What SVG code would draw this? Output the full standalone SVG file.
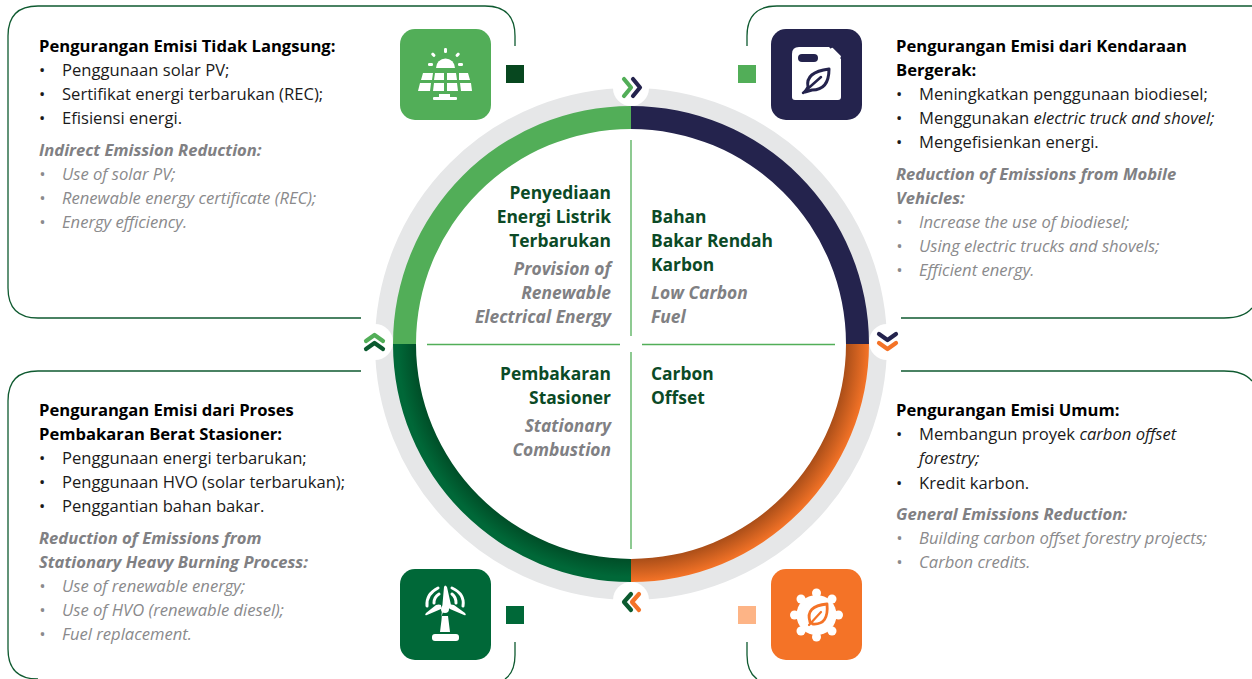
<svg xmlns="http://www.w3.org/2000/svg" width="1252" height="679" viewBox="0 0 1252 679">
<defs>
<linearGradient id="go" x1="0" y1="0" x2="1" y2="1"><stop offset="0" stop-color="#f5712a"/><stop offset="1" stop-color="#f5712a"/></linearGradient>
<radialGradient id="shO" gradientUnits="userSpaceOnUse" cx="631" cy="344" r="238"><stop offset="0.9" stop-color="#a84d18"/><stop offset="1" stop-color="#f47327"/></radialGradient>
<radialGradient id="shG" gradientUnits="userSpaceOnUse" cx="631" cy="344" r="238"><stop offset="0.9" stop-color="#004d27"/><stop offset="0.98" stop-color="#006838"/></radialGradient>
</defs>
<style>
text{font-family:"Open Sans","Noto Sans","Liberation Sans",sans-serif;font-size:16.6px;fill:#1a1a1a}
.b{font-weight:700;fill:#000}
.e{font-style:italic;fill:#8a8a8c}
.eb{font-style:italic;font-weight:700;fill:#808083}
.g{font-weight:700;fill:#0b4a26;font-size:17.4px}
.gi{font-style:italic;font-weight:700;fill:#808083;font-size:17.4px}
.i{font-style:italic}
.p{fill:none;stroke:#0f5a30;stroke-width:1.3}
.w{fill:#fff}
</style>
<g id="connectors">
<path class="p" d="M515 46V36Q515 6 485 6H38Q8 6 8 36V288Q8 318 38 318H361"/>
<path class="p" d="M747 46V36Q747 6 777 6H1252"/>
<path class="p" d="M901 318H1224Q1244 318 1252 308"/>
<path class="p" d="M361 371H38Q8 371 8 401V649Q8 679 38 679"/>
<path class="p" d="M515 642V655Q515 672 505 679"/>
<path class="p" d="M747 642V655Q747 672 757 679"/>
<path class="p" d="M901 371H1224Q1244 371 1252 381"/>
</g>
<g id="ring">
<circle cx="631" cy="344" r="246.5" fill="none" stroke="#e6e7e8" stroke-width="19"/>
<path d="M631 106A238 238 0 0 0 393 344H416A215 215 0 0 1 631 129Z" fill="#52ae58"/>
<path d="M631 106A238 238 0 0 1 869 344H846A215 215 0 0 0 631 129Z" fill="#24234d"/>
<path d="M869 344A238 238 0 0 1 631 582V559A215 215 0 0 0 846 344Z" fill="url(#shO)"/>
<path d="M393 344A238 238 0 0 0 631 582V559A215 215 0 0 1 416 344Z" fill="url(#shG)"/>
<g fill="#fff"><circle cx="631" cy="88" r="18"/><circle cx="375" cy="342" r="18"/><circle cx="887" cy="342" r="18"/><circle cx="631" cy="600" r="18"/></g>
<g fill="none" stroke-width="4.2" stroke-linecap="round" stroke-linejoin="round">
<path d="M624 79L631 87.5L624 96" stroke="#52ae58"/><path d="M633 79L640 87.5L633 96" stroke="#24234d"/>
<path d="M366 341L374.500 335L383 341" stroke="#52ae58"/><path d="M366 349L374.500 343L383 349" stroke="#0b5a2f"/>
<path d="M879 334L887.500 340L896 334" stroke="#24234d"/><path d="M879 343L887.500 349L896 343" stroke="#f47327"/>
<path d="M631 594L624 602L631 610" stroke="#0b5a2f"/><path d="M639 594L632 602L639 610" stroke="#f47327"/>
</g>
<g stroke="#52ae58" stroke-width="1.3"><path d="M631 140V336M631 352V549"/><path d="M427 344.500H620M642 344.500H835"/></g>
</g>
<g id="node-tl">
<rect x="400" y="29" width="91" height="91" rx="15" fill="#52ae58"/>
<g class="w"><path d="M436 68a9.500 9.500 0 0 1 19 0Z"/><rect x="444" y="48" width="3" height="5" rx="1.200"/><rect x="432" y="52.500" width="3" height="4.500" rx="1.200" transform="rotate(-42 433.500 55)"/><rect x="456" y="52.500" width="3" height="4.500" rx="1.200" transform="rotate(42 457.500 55)"/><rect x="428" y="63" width="5" height="3" rx="1.200"/><rect x="458" y="63" width="5" height="3" rx="1.200"/>
<path d="M423 73H433L432 80H421ZM435 73H444V80H434ZM447 73H456L457 80H447ZM459 73H468L470 80H459ZM420 83H431L430 91H418ZM434 83H444V91H433ZM447 83H457L458 91H447ZM460 83H471L472 91H461Z"/>
<rect x="433" y="97" width="24" height="3" rx="1"/><rect x="439" y="94" width="11" height="3"/></g>
<rect x="506" y="65" width="18" height="18" fill="#07471f"/>
<text class="b" x="39" y="52">Pengurangan Emisi Tidak  Langsung:</text>
<text x="39" y="76">•</text><text x="62" y="76">Penggunaan solar PV;</text>
<text x="39" y="100">•</text><text x="62" y="100">Sertifikat energi terbarukan (REC);</text>
<text x="39" y="124">•</text><text x="62" y="124">Efisiensi energi.</text>
<text class="eb" x="39" y="156">Indirect Emission Reduction:</text>
<text class="e" x="39" y="180">•</text><text class="e" x="62" y="180">Use of solar PV;</text>
<text class="e" x="39" y="204">•</text><text class="e" x="62" y="204">Renewable energy certificate (REC);</text>
<text class="e" x="39" y="228">•</text><text class="e" x="62" y="228">Energy efficiency.</text>
</g>
<g id="node-tr">
<rect x="771" y="29" width="91" height="91" rx="15" fill="#24234d"/>
<path class="w" d="M799 47H829L841 59V97Q841 100 838 100H795Q792 100 792 97V54Q792 47 799 47Z"/>
<rect x="829" y="51" width="13" height="4.500" rx="1" fill="#fff" transform="rotate(45 835 53)"/>
<rect x="798" y="54" width="20" height="8" rx="4" fill="#24234d"/>
<path d="M805 92L808 87Q805 72 829 69Q829 90 812 90Z" fill="none" stroke="#24234d" stroke-width="3" stroke-linejoin="round"/><path d="M803 93L821 77" stroke="#24234d" stroke-width="2.500" stroke-linecap="round"/>
<rect x="738" y="65" width="18" height="18" fill="#52ae58"/>
<text class="b" x="896" y="52">Pengurangan Emisi dari Kendaraan</text>
<text class="b" x="896" y="76">Bergerak:</text>
<text x="896" y="100">•</text><text x="919" y="100">Meningkatkan penggunaan biodiesel;</text>
<text x="896" y="124">•</text><text x="919" y="124">Menggunakan <tspan class="i">electric truck and shovel;</tspan></text>
<text x="896" y="148">•</text><text x="919" y="148">Mengefisienkan energi.</text>
<text class="eb" x="896" y="180">Reduction of Emissions from Mobile</text>
<text class="eb" x="896" y="204">Vehicles:</text>
<text class="e" x="896" y="228">•</text><text class="e" x="919" y="228">Increase the use of biodiesel;</text>
<text class="e" x="896" y="252">•</text><text class="e" x="919" y="252">Using electric trucks and shovels;</text>
<text class="e" x="896" y="276">•</text><text class="e" x="919" y="276">Efficient energy.</text>
</g>
<g id="node-bl">
<rect x="400" y="569" width="91" height="91" rx="15" fill="#006838"/>
<g class="w"><path d="M441 624L444 590Q445 587 447 590L451 608Q452 612 447 612Q442 612 441 624Z" transform="translate(0 -3)"/>
<circle cx="445" cy="609" r="4"/>
<path d="M441 609L427 615Q424 616 426 613L436 605Q439 604 441 605ZM449 605Q451 604 454 605L465 613Q467 616 464 615L450 609Z"/>
<path d="M442 616H448L450 632H440Z"/><rect x="432" y="634" width="27" height="7" rx="3"/></g>
<g fill="none" stroke="#fff" stroke-width="3" stroke-linecap="round"><path d="M427 606Q426 594 438 588"/><path d="M463 606Q465 594 452 588"/><path d="M434 603Q434 597 439 594"/><path d="M456 603Q456 597 452 594"/></g>
<rect x="506" y="606" width="18" height="18" fill="#006838"/>
<text class="b" x="39" y="416">Pengurangan Emisi dari Proses</text>
<text class="b" x="39" y="440">Pembakaran Berat Stasioner:</text>
<text x="39" y="464">•</text><text x="62" y="464">Penggunaan energi terbarukan;</text>
<text x="39" y="488">•</text><text x="62" y="488">Penggunaan HVO (solar terbarukan);</text>
<text x="39" y="512">•</text><text x="62" y="512">Penggantian bahan bakar.</text>
<text class="eb" x="39" y="544">Reduction of Emissions from</text>
<text class="eb" x="39" y="568">Stationary Heavy Burning Process:</text>
<text class="e" x="39" y="592">•</text><text class="e" x="62" y="592">Use of renewable energy;</text>
<text class="e" x="39" y="616">•</text><text class="e" x="62" y="616">Use of HVO (renewable diesel);</text>
<text class="e" x="39" y="640">•</text><text class="e" x="62" y="640">Fuel replacement.</text>
</g>
<g id="node-br">
<rect x="771" y="569" width="91" height="91" rx="15" fill="#f47327"/>
<circle cx="816.500" cy="615" r="20" fill="#fff"/>
<g fill="#fff"><circle cx="816.500" cy="593" r="4.500"/><circle cx="816.500" cy="637" r="4.500"/><circle cx="794.500" cy="615" r="4.500"/><circle cx="838.500" cy="615" r="4.500"/><circle cx="801" cy="599" r="4.500"/><circle cx="832" cy="599" r="4.500"/><circle cx="801" cy="631" r="4.500"/><circle cx="832" cy="631" r="4.500"/></g>
<path d="M810 622Q805 606 827 604Q829 625 813 624Z" fill="none" stroke="#f47327" stroke-width="2.800" stroke-linejoin="round"/><path d="M809 625L821 612" stroke="#f47327" stroke-width="2.200" stroke-linecap="round"/>
<rect x="738" y="606" width="18" height="18" fill="#fdb486"/>
<text class="b" x="896" y="416">Pengurangan Emisi Umum:</text>
<text x="896" y="440">•</text><text x="919" y="440">Membangun proyek <tspan class="i">carbon offset</tspan></text>
<text class="i" x="919" y="464">forestry;</text>
<text x="896" y="489">•</text><text x="919" y="489">Kredit karbon.</text>
<text class="eb" x="896" y="520">General Emissions Reduction:</text>
<text class="e" x="896" y="544">•</text><text class="e" x="919" y="544">Building carbon offset forestry projects;</text>
<text class="e" x="896" y="568">•</text><text class="e" x="919" y="568">Carbon credits.</text>
</g>
<g id="center-labels">
<g text-anchor="end">
<text class="g" x="611" y="199">Penyediaan</text><text class="g" x="611" y="223">Energi Listrik</text><text class="g" x="611" y="247">Terbarukan</text>
<text class="gi" x="611" y="275">Provision of</text><text class="gi" x="611" y="299">Renewable</text><text class="gi" x="611" y="323">Electrical Energy</text>
<text class="g" x="611" y="380">Pembakaran</text><text class="g" x="611" y="404">Stasioner</text>
<text class="gi" x="611" y="432">Stationary</text><text class="gi" x="611" y="456">Combustion</text>
</g>
<text class="g" x="651" y="223">Bahan</text><text class="g" x="651" y="247">Bakar Rendah</text><text class="g" x="651" y="271">Karbon</text>
<text class="gi" x="651" y="299">Low Carbon</text><text class="gi" x="651" y="323">Fuel</text>
<text class="g" x="651" y="380">Carbon</text><text class="g" x="651" y="404">Offset</text>
</g>
</svg>
